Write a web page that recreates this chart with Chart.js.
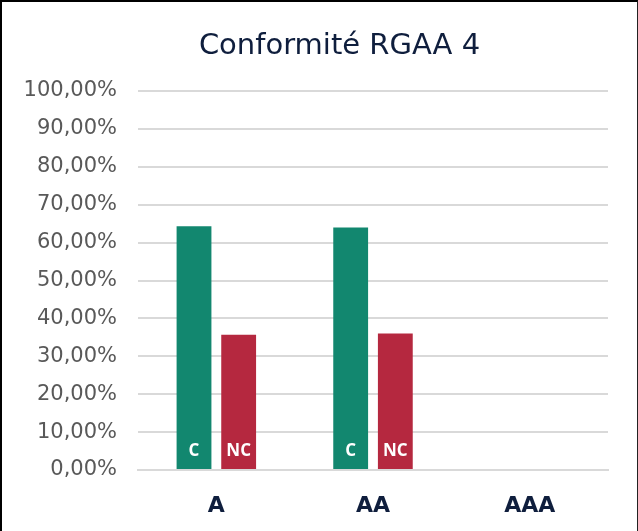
<!DOCTYPE html>
<html>
<head>
<meta charset="utf-8">
<script src="https://cdn.jsdelivr.net/npm/chart.js@4/dist/chart.umd.min.js"></script>
<style>
  html, body { margin: 0; padding: 0; background: #fff; }
  #wrap { width: 635px; height: 529px; border-left: 2px solid #000; border-top: 2px solid #000; border-right: 1px solid #222; }
</style>
</head>
<body>
<div id="wrap"><canvas id="chart" width="635" height="529"></canvas></div>
<script>
const categories = ['A', 'AA', 'AAA'];
const conformes = [64.3, 64.0, 0];
const nonConformes = [35.7, 36.0, 0];
const seriesLabels = ['C', 'NC'];
const titre = 'Conformité RGAA 4';

// labels "C" / "NC" at the foot of each bar
const barLabels = {
  id: 'barLabels',
  afterDatasetsDraw(chart) {
    const ctx = chart.ctx;
    ctx.save();
    ctx.fillStyle = '#fff';
    ctx.font = 'bold 17px "Open Sans"';
    ctx.textAlign = 'center';
    ctx.textBaseline = 'middle';
    chart.data.datasets.forEach((ds, i) => {
      chart.getDatasetMeta(i).data.forEach((bar, j) => {
        if (!ds.data[j]) return;
        ctx.fillText(seriesLabels[i], bar.x, bar.base - 18);
      });
    });
    ctx.restore();
  }
};

// title, centred a bit right of the canvas middle like the excel chart
const titlePlugin = {
  id: 'titlePlugin',
  afterDraw(chart) {
    const ctx = chart.ctx;
    ctx.save();
    ctx.fillStyle = '#0f1e3d';
    ctx.font = '29px "DejaVu Sans"';
    ctx.textAlign = 'center';
    ctx.textBaseline = 'middle';
    ctx.fillText(titre, chart.width / 2 + 20, 44);
    ctx.restore();
  }
};

new Chart(document.getElementById('chart'), {
  type: 'bar',
  data: {
    labels: categories,
    datasets: [
      { label: seriesLabels[0], backgroundColor: '#12876f', data: conformes, categoryPercentage: 0.57, barPercentage: 0.78 },
      { label: seriesLabels[1], backgroundColor: '#b5283f', data: nonConformes, categoryPercentage: 0.57, barPercentage: 0.78 }
    ]
  },
  options: {
    responsive: false,
    animation: false,
    layout: { padding: { left: 8, right: 29, top: 89, bottom: 0 } },
    plugins: {
      legend: { display: false },
      tooltip: { enabled: false },
      title: { display: false }
    },
    scales: {
      x: {
        afterFit(scale) { scale.height = 61; },
        grid: { display: false },
        border: { color: '#d9d9d9', width: 2 },
        ticks: { color: '#0f1e3d', font: { family: 'DejaVu Sans', size: 22, weight: 'bold' }, padding: 15 }
      },
      y: {
        min: 0,
        max: 100,
        afterFit(scale) { scale.width = 128; },
        ticks: {
          stepSize: 10,
          color: '#595959',
          padding: 21,
          font: { family: 'DejaVu Sans', size: 21 },
          callback: v => v.toFixed(2).replace('.', ',') + '%'
        },
        grid: { color: '#d9d9d9', lineWidth: 2, drawTicks: false },
        border: { display: false }
      }
    }
  },
  plugins: [barLabels, titlePlugin]
});
</script>
</body>
</html>
